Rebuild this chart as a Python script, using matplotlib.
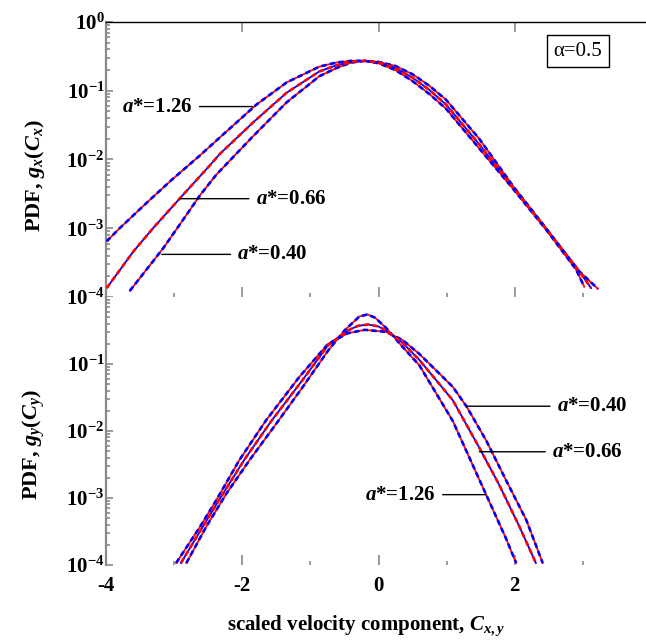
import numpy as np
import matplotlib
matplotlib.use("Agg")
import matplotlib.pyplot as plt
from matplotlib.ticker import FixedLocator, FixedFormatter, LogLocator, NullFormatter

# ---------------- data (log10 of the PDF) ----------------
a_star = ["0.40", "0.66", "1.26"]

# top panel : g_x(C_x)
cx_040 = [-3.65, -3.31, -3.16, -2.92, -2.62, -2.38, -1.84, -1.35, -0.87, -0.62, -0.40, -0.20, 0.00, 0.25, 0.50, 0.75, 0.99, 1.48, 1.97, 2.46, 2.95, 3.22]
lgx_040 = [-3.91, -3.48, -3.29, -2.95, -2.52, -2.22, -1.66, -1.17, -0.79, -0.67, -0.59, -0.565, -0.58, -0.64, -0.76, -0.93, -1.13, -1.70, -2.38, -3.00, -3.63, -3.88]
cx_066 = [-3.99, -3.60, -3.31, -2.92, -2.48, -2.33, -1.84, -1.35, -0.87, -0.62, -0.40, -0.20, 0.00, 0.25, 0.50, 0.75, 0.99, 1.48, 1.97, 2.46, 2.95, 3.12]
lgx_066 = [-3.87, -3.34, -3.00, -2.57, -2.09, -1.92, -1.46, -1.03, -0.72, -0.63, -0.58, -0.565, -0.59, -0.67, -0.81, -0.99, -1.20, -1.78, -2.40, -3.01, -3.63, -3.87]
cx_126 = [-3.99, -3.80, -3.36, -3.04, -2.62, -2.33, -1.79, -1.35, -0.87, -0.62, -0.40, -0.20, 0.00, 0.25, 0.50, 0.75, 0.99, 1.48, 1.97, 2.46, 2.90, 3.02]
lgx_126 = [-3.19, -3.00, -2.59, -2.30, -1.94, -1.68, -1.20, -0.88, -0.65, -0.59, -0.565, -0.565, -0.60, -0.70, -0.86, -1.05, -1.26, -1.84, -2.42, -3.02, -3.60, -3.85]

# bottom panel : g_y(C_y)
cy_040 = [-2.97, -2.62, -2.38, -2.04, -1.65, -1.16, -0.74, -0.45, -0.20, 0.11, 0.35, 0.60, 1.09, 1.29, 1.58, 1.87, 2.17, 2.41]
lgy_040 = [-3.97, -3.43, -3.03, -2.43, -1.84, -1.19, -0.70, -0.54, -0.49, -0.52, -0.64, -0.85, -1.34, -1.63, -2.14, -2.73, -3.33, -3.97]
cy_066 = [-2.90, -2.58, -2.31, -1.97, -1.58, -1.13, -0.74, -0.45, -0.30, -0.15, 0.00, 0.11, 0.35, 0.60, 1.09, 1.48, 1.77, 2.07, 2.31]
lgy_066 = [-3.97, -3.43, -2.98, -2.43, -1.86, -1.26, -0.72, -0.50, -0.43, -0.41, -0.44, -0.50, -0.68, -0.94, -1.54, -2.25, -2.80, -3.43, -3.97]
cy_126 = [-2.82, -2.53, -2.23, -1.89, -1.50, -1.11, -0.74, -0.50, -0.28, -0.16, -0.05, 0.11, 0.35, 0.60, 1.09, 1.58, 1.87, 2.02]
lgy_126 = [-3.97, -3.43, -2.93, -2.43, -1.89, -1.34, -0.80, -0.50, -0.29, -0.26, -0.31, -0.46, -0.74, -1.02, -1.85, -2.95, -3.60, -3.97]

x_major = [-4, -2, 0, 2]
x_major_labels = ["-4", "-2", "0", "2"]
x_minor = [-3, -1, 1, 3]
y_top_ticks = [1e0, 1e-1, 1e-2, 1e-3, 1e-4]
y_top_labels = [r"$10^{0}$", r"$10^{-1}$", r"$10^{-2}$", r"$10^{-3}$", r"$10^{-4}$"]
y_bot_ticks = [1e-1, 1e-2, 1e-3, 1e-4]
y_bot_labels = [r"$10^{-1}$", r"$10^{-2}$", r"$10^{-3}$", r"$10^{-4}$"]
alpha_text = "α=0.5"

# ---------------- style ----------------
plt.rcParams["font.family"] = ["Liberation Serif", "DejaVu Serif"]
plt.rcParams["font.weight"] = "bold"
plt.rcParams["mathtext.fontset"] = "custom"
plt.rcParams["mathtext.rm"] = "Liberation Serif:bold"
plt.rcParams["mathtext.it"] = "Liberation Serif:italic:bold"
plt.rcParams["mathtext.bf"] = "Liberation Serif:bold"

BLUE = "#0000ff"
RED = "#ff0000"
GRAY = "#8a8a8a"

W, H = 646, 643
fig = plt.figure(figsize=(W / 100, H / 100), dpi=100)
ax1 = fig.add_axes([106 / W, 1 - 297 / H, 545 / W, 275 / H])
ax2 = fig.add_axes([106 / W, 1 - 565 / H, 545 / W, 268 / H])


def draw(ax, c, lg, under, over):
    y = 10 ** np.asarray(lg)
    ax.plot(c, y, color=under, lw=1.3, zorder=2, solid_joinstyle="round")
    ax.plot(c, y, color=over, lw=1.9, ls=(0, (2.0, 1.3)), zorder=3)


draw(ax1, cx_040, lgx_040, RED, BLUE)
draw(ax1, cx_126, lgx_126, RED, BLUE)
draw(ax1, cx_066, lgx_066, BLUE, RED)
draw(ax2, cy_040, lgy_040, RED, BLUE)
draw(ax2, cy_126, lgy_126, RED, BLUE)
draw(ax2, cy_066, lgy_066, BLUE, RED)

for ax in (ax1, ax2):
    ax.set_xlim(-4, 4)
    ax.set_yscale("log")
    ax.spines["right"].set_visible(False)
    ax.spines["bottom"].set_visible(False)
    ax.spines["left"].set_color(GRAY)
    ax.spines["left"].set_linewidth(1.6)
    ax.xaxis.set_major_locator(FixedLocator(x_major))
    ax.xaxis.set_minor_locator(FixedLocator(x_minor))
    ax.yaxis.set_minor_locator(LogLocator(base=10, subs=np.arange(2, 10)))
    ax.yaxis.set_minor_formatter(NullFormatter())
    ax.tick_params(axis="both", which="both", direction="in", color=GRAY, width=1.2)
    ax.tick_params(axis="x", which="major", length=7)
    ax.tick_params(axis="x", which="minor", length=3)
    ax.tick_params(axis="y", which="major", length=5, pad=1, labelsize=15)
    ax.tick_params(axis="y", which="minor", length=3)
    ax.tick_params(axis="y", right=False)

ax1.set_ylim(1e-4, 1e0)
ax1.spines["top"].set_linewidth(1.0)
ax1.yaxis.set_major_locator(FixedLocator(y_top_ticks))
ax1.yaxis.set_major_formatter(FixedFormatter(y_top_labels))
ax1.tick_params(axis="x", top=True, bottom=True, labelbottom=False)

ax2.set_ylim(1e-4, 1e0)
ax2.spines["top"].set_visible(False)
ax2.yaxis.set_major_locator(FixedLocator(y_bot_ticks))
ax2.yaxis.set_major_formatter(FixedFormatter(y_bot_labels))
ax2.xaxis.set_major_formatter(FixedFormatter(x_major_labels))
ax2.tick_params(axis="x", top=False, bottom=True, labelbottom=True, labelsize=15, pad=8)

# axis labels
ax1.set_ylabel(r"PDF, $g_x(C_x)$", fontsize=16, fontweight="bold")
ax1.yaxis.set_label_coords(-0.108, 0.44)
ax2.set_ylabel(r"PDF, $g_y(C_y)$", fontsize=16, fontweight="bold")
ax2.yaxis.set_label_coords(-0.108, 0.45)
ax2.set_xlabel(r"scaled velocity component, $C_{x,y}$", fontsize=15, fontweight="bold")
ax2.xaxis.set_label_coords(0.477, -0.18)

# curve labels with leader lines
arrow = dict(arrowstyle="-", color="black", lw=1.0, shrinkA=3, shrinkB=0)
ax1.annotate(r"$a$*=" + a_star[2], xy=(-1.85, 10 ** -1.23), xytext=(-2.73, 10 ** -1.23),
             ha="right", va="center", fontsize=15, arrowprops=arrow)
ax1.annotate(r"$a$*=" + a_star[1], xy=(-2.92, 10 ** -2.57), xytext=(-1.80, 10 ** -2.57),
             ha="left", va="center", fontsize=15, arrowprops=arrow)
ax1.annotate(r"$a$*=" + a_star[0], xy=(-3.18, 10 ** -3.38), xytext=(-2.07, 10 ** -3.38),
             ha="left", va="center", fontsize=15, arrowprops=arrow)
ax2.annotate(r"$a$*=" + a_star[0], xy=(1.29, 10 ** -1.63), xytext=(2.62, 10 ** -1.63),
             ha="left", va="center", fontsize=15, arrowprops=arrow)
ax2.annotate(r"$a$*=" + a_star[1], xy=(1.48, 10 ** -2.31), xytext=(2.55, 10 ** -2.31),
             ha="left", va="center", fontsize=15, arrowprops=arrow)
ax2.annotate(r"$a$*=" + a_star[2], xy=(1.58, 10 ** -2.95), xytext=(0.84, 10 ** -2.95),
             ha="right", va="center", fontsize=15, arrowprops=arrow)

ax1.text(0.866, 0.894, alpha_text, transform=ax1.transAxes, ha="center", va="center",
         fontsize=15, fontweight="normal",
         bbox=dict(boxstyle="square,pad=0.3", facecolor="white", edgecolor="black", lw=1.0))

fig.savefig("out.png", dpi=100)
